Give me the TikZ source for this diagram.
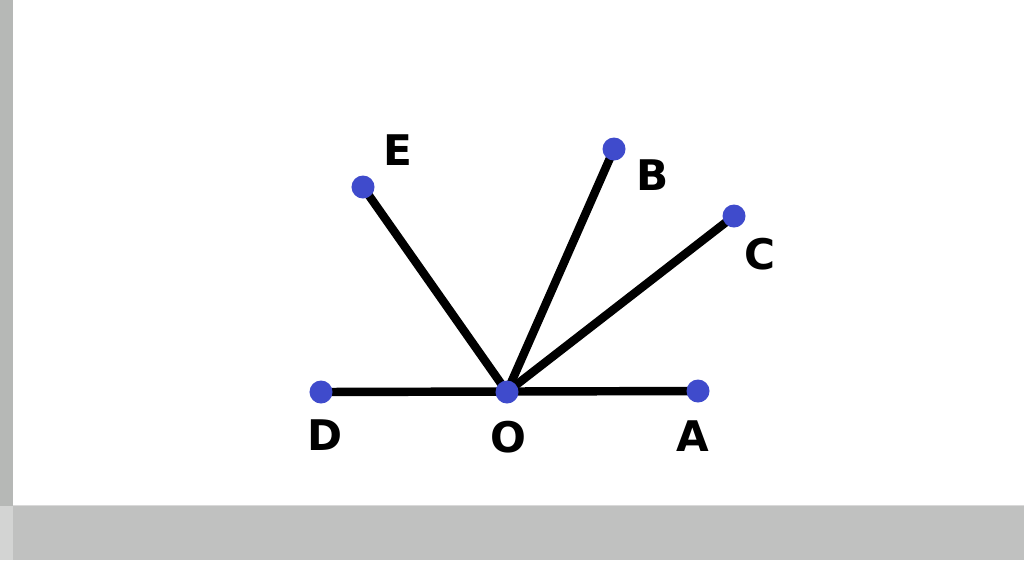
\documentclass[tikz,border=0pt]{standalone}
\usepackage{fontspec}
\setmainfont{DejaVu Sans}
\definecolor{dotblue}{HTML}{3F4BCC}
\definecolor{stripgrey}{HTML}{B6B8B6}
\definecolor{bandgrey}{HTML}{C0C1C0}
\begin{document}
\begin{tikzpicture}[x=0.01cm,y=-0.01cm,
  pt/.style={circle,fill=dotblue,inner sep=0pt,minimum size=0.23cm},
  seg/.style={line width=2.4pt,black},
  lab/.style={font=\fontsize{12}{12}\selectfont\bfseries,inner sep=0pt}]
\useasboundingbox (0,0) rectangle (1024,560);
\fill[white] (0,0) rectangle (1024,560);
\fill[stripgrey] (0,0) rectangle (13,506);
\fill[bandgrey] (0,506) rectangle (1024,560);
\fill[stripgrey!60!white] (0,506) rectangle (13,560);
\draw[white!85!black,line width=0.4pt] (13,505.5) -- (1024,505.5);
\coordinate (o) at (507,392);
\coordinate (a) at (698,391);
\coordinate (d) at (321,392);
\coordinate (e) at (363,187);
\coordinate (b) at (614,149);
\coordinate (c) at (734,216);
\draw[seg] (d) -- (a);
\draw[seg] (o) -- (e);
\draw[seg] (o) -- (b);
\draw[seg] (o) -- (c);
\node[pt] (O) at (o) {};
\node[pt] (A) at (a) {};
\node[pt] (D) at (d) {};
\node[pt] (E) at (e) {};
\node[pt] (B) at (b) {};
\node[pt] (C) at (c) {};
\node[lab] (lD) at (325,435) {D};
\node[lab] (lO) at (508,437) {O};
\node[lab] (lA) at (693,436) {A};
\node[lab] (lE) at (398,150) {E};
\node[lab] (lB) at (653,175) {B};
\node[lab] (lC) at (760,254) {C};
\end{tikzpicture}
\end{document}
